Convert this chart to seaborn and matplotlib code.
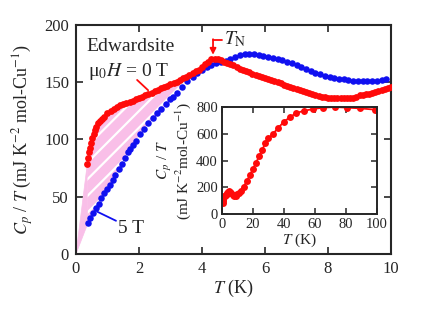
import numpy as np
import pandas as pd
import seaborn as sns
import matplotlib.pyplot as plt

# Cp/T at 0 T (main panel)
t_0T = [0.36, 0.39, 0.42, 0.45, 0.48, 0.52, 0.56, 0.60, 0.65, 0.70, 0.76, 0.82, 0.90,
        1.0, 1.1, 1.2, 1.3, 1.4, 1.5, 1.6, 1.7, 1.8, 1.9, 2.0, 2.1, 2.2, 2.3,
        2.4, 2.5, 2.6, 2.7, 2.8, 2.9, 3.0, 3.1, 3.2, 3.3, 3.4, 3.5, 3.6, 3.7,
        3.8, 3.9, 4.0, 4.1, 4.2, 4.3, 4.4, 4.5, 4.6, 4.7, 4.8, 4.9, 5.0, 5.1,
        5.2, 5.3, 5.4, 5.5, 5.6, 5.7, 5.8, 5.9, 6.0, 6.1, 6.2, 6.3, 6.4, 6.5,
        6.6, 6.7, 6.8, 6.9, 7.0, 7.1, 7.2, 7.3, 7.4, 7.5, 7.6, 7.7, 7.8, 7.9,
        8.0, 8.1, 8.2, 8.3, 8.4, 8.5, 8.6, 8.7, 8.8, 8.9, 9.0, 9.1, 9.2, 9.3,
        9.4, 9.5, 9.6, 9.7, 9.8, 9.9, 10.0]
c_0T = [79, 84, 89, 93, 97, 101, 105, 108, 111, 114, 116, 118, 120,
        123, 125, 127, 128.5, 130, 131, 132, 133, 134, 135, 136, 137.5, 139, 140,
        141, 142.5, 143.5, 145, 146, 147, 148.5, 149.5, 150.5, 152, 153.5, 155, 156.5, 158,
        159.5, 161, 163, 165.5, 168, 170, 170.5, 170, 169, 168, 166.5, 165.5, 165, 163.5,
        162, 161, 160, 159, 157.5, 156.5, 155.5, 154.5, 154, 153, 152, 151, 150, 149.5,
        148, 147, 146, 145, 144.5, 143.5, 142.5, 141.5, 140.5, 139.5, 139, 138, 137.5, 137,
        136.5, 136.5, 136, 136, 136, 136, 136, 136.5, 136.5, 137.5, 138.5, 139, 139.5, 140,
        140.5, 141.5, 142, 143, 144, 145, 146]

# Cp/T at 5 T
t_5T = [0.38, 0.45, 0.54, 0.62, 0.73, 0.80, 0.90, 1.0, 1.08, 1.16, 1.24, 1.35,
        1.46, 1.55, 1.65, 1.73, 1.81, 1.90, 2.03, 2.15, 2.30, 2.45, 2.57, 2.70,
        2.85, 3.0, 3.08, 3.2, 3.35, 3.52, 3.7, 3.85, 4.0, 4.16, 4.3, 4.45, 4.6,
        4.75, 4.9, 5.05, 5.2, 5.35, 5.5, 5.65, 5.8, 5.95, 6.1, 6.25, 6.4, 6.55,
        6.7, 6.85, 7.0, 7.15, 7.3, 7.45, 7.6, 7.75, 7.9, 8.05, 8.2, 8.35, 8.5,
        8.65, 8.8, 8.95, 9.1, 9.25, 9.4, 9.55, 9.7, 9.85]
c_5T = [27, 31, 36, 40, 44, 49, 53, 57, 60, 65, 69, 74,
        79, 84, 89, 92, 95, 99, 105, 109, 114, 119, 123, 127,
        131, 135, 137, 141, 146, 151, 155, 158, 160.5, 163, 165, 166.5, 167.5,
        168.5, 170, 172, 174, 174.5, 175, 174.5, 174, 173, 172, 171, 170, 169,
        168, 166.5, 165, 163, 161.5, 160, 158, 157, 155.5, 155, 154, 153, 152.5,
        152, 151.5, 151, 151, 151, 151, 151.5, 152, 153]

# inset: 0 T up to 100 K
t_wide = [0.4, 0.6, 0.8, 1.0, 1.5, 2, 2.5, 3, 3.5, 4, 4.4, 5, 6, 7, 8, 9, 10,
          11, 12, 14, 16, 18, 20, 22, 24, 26, 28, 30, 33, 36, 40, 44, 48, 53,
          59, 65, 73, 81, 89, 99]
c_wide = [80, 100, 115, 123, 131, 136, 142, 149, 155, 163, 171, 165, 154, 145,
          137, 138, 146, 160, 175, 205, 245, 290, 335, 385, 430, 480, 530, 565,
          600, 640, 690, 725, 755, 772, 785, 795, 800, 795, 790, 780]

sns.set_style('ticks')
plt.rcParams['font.family'] = ['Liberation Serif', 'DejaVu Serif']
plt.rcParams['mathtext.fontset'] = 'stix'
plt.rcParams['hatch.color'] = 'white'
plt.rcParams['hatch.linewidth'] = 1.6

red = '#ff0a0a'
blue = '#1010f0'
pink = '#f9bfe8'

fig = plt.figure(figsize=(4.36, 3.18), dpi=100)
ax = fig.add_axes([0.1743, 0.2013, 0.7225, 0.7201])

# plain wedge down to the origin
ax.fill([0.0, t_0T[0], t_5T[0]], [0.0, c_0T[0], c_5T[0]], facecolor=pink,
        edgecolor=pink, linewidth=0.5, zorder=1)
# hatched region between the two curves
n_red = 48
n_blue = 37
poly_x = t_0T[:n_red] + t_5T[:n_blue][::-1]
poly_y = c_0T[:n_red] + c_5T[:n_blue][::-1]
ax.fill(poly_x, poly_y, facecolor=pink, edgecolor='white', linewidth=0,
        hatch='//', zorder=1)

df0 = pd.DataFrame({'T': t_0T, 'C': c_0T})
df5 = pd.DataFrame({'T': t_5T, 'C': c_5T})
sns.scatterplot(data=df5, x='T', y='C', color=blue, s=22, linewidth=0, ax=ax, zorder=3)
sns.scatterplot(data=df0, x='T', y='C', color=red, s=24, linewidth=0, ax=ax, zorder=4)

ax.set_xlim(0, 10)
ax.set_ylim(0, 200)
ax.set_xticks([0, 2, 4, 6, 8, 10])
ax.set_yticks([0, 50, 100, 150, 200])
ax.tick_params(direction='in', top=True, right=True, length=5, width=1.2,
               labelsize=12, pad=5)
for sp in ax.spines.values():
    sp.set_linewidth(1.5)
ax.set_xlabel(r'$T$ (K)', fontsize=13, labelpad=1)
ax.set_ylabel(r'$C_p$ / $T$ (mJ K$^{-2}$ mol-Cu$^{-1}$)', fontsize=13, labelpad=6)

ax.text(0.32, 181, 'Edwardsite', fontsize=14, va='center')
ax.text(0.38, 159, r'μ$_0$$H$ = 0 T', fontsize=14, va='center')
ax.plot([1.94, 2.29], [152, 143], color=red, lw=1.3, zorder=5)
ax.text(1.32, 22, '5 T', fontsize=14, va='center')
ax.plot([0.67, 1.27], [37, 29], color=blue, lw=1.3, zorder=5)

# T_N marker
ax.plot([4.65, 4.35], [187, 187], color=red, lw=1.3)
ax.annotate('', xy=(4.35, 174), xytext=(4.35, 187.6),
            arrowprops=dict(arrowstyle='-|>', color=red, lw=1.3,
                            mutation_scale=9, shrinkA=0, shrinkB=0))
ax.text(4.7, 188, r'$T_{\mathrm{N}}$', fontsize=14, va='center')

# inset
ins = fig.add_axes([0.509, 0.327, 0.3555, 0.3365])
dfw = pd.DataFrame({'T': t_wide, 'C': c_wide})
sns.lineplot(data=dfw, x='T', y='C', color=red, marker='o', markersize=5,
             markeredgewidth=0, lw=1.3, ax=ins)
ins.set_xlim(0, 100)
ins.set_ylim(0, 800)
ins.set_xticks([0, 20, 40, 60, 80, 100])
ins.set_yticks([0, 200, 400, 600, 800])
ins.tick_params(direction='in', top=True, right=True, length=4, width=1.1,
                labelsize=10.5, pad=3)
for sp in ins.spines.values():
    sp.set_linewidth(1.4)
ins.set_xlabel(r'$T$ (K)', fontsize=11, labelpad=0)
ins.set_ylabel('$C_p$ / $T$\n(mJ K$^{-2}$mol-Cu$^{-1}$)', fontsize=11,
               labelpad=2, linespacing=0.95)

fig.savefig('out.png', dpi=100)
